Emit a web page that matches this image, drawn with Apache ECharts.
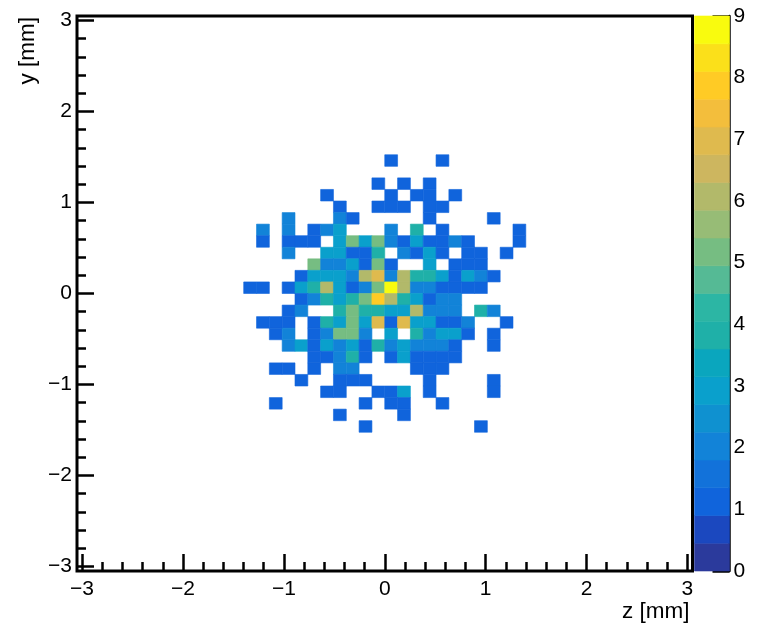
<!DOCTYPE html>
<html>
<head>
<meta charset="utf-8">
<style>html,body{margin:0;padding:0;background:#fff}#c{width:774px;height:624px}</style>
<script src="https://cdn.jsdelivr.net/npm/echarts@6/dist/echarts.min.js"></script>
</head>
<body>
<div id="c"></div>
<script>
// histogram range and binning (ROOT TH2: 48 x 48 bins)
const axisMin = -3.05;
const axisMax = 3.05;
const binCount = 48;
const firstZBin = 13;
const firstYBinFromTop = 12;

// counts per bin, top row first; columns start at firstZBin
const counts = [
  [0,0,0,0,0,0,0,0,0,0,0,1,0,0,0,1,0,0,0,0,0,0],
  [0,0,0,0,0,0,0,0,0,0,0,0,0,0,0,0,0,0,0,0,0,0],
  [0,0,0,0,0,0,0,0,0,0,1,0,1,0,1,0,0,0,0,0,0,0],
  [0,0,0,0,0,0,1,0,0,0,0,1,0,1,1,0,1,0,0,0,0,0],
  [0,0,0,0,0,0,0,1,0,0,1,1,1,0,1,1,0,0,0,0,0,0],
  [0,0,0,2,0,0,0,2,1,0,0,0,0,0,1,0,0,0,0,1,0,0],
  [0,2,0,2,0,1,2,3,0,0,0,2,0,4,0,1,0,0,0,0,0,1],
  [0,1,0,1,1,1,0,3,5,3,5,2,1,3,1,1,2,1,0,0,0,1],
  [0,0,0,2,0,0,3,3,1,1,4,0,2,1,3,1,0,1,1,0,1,0],
  [0,0,0,0,0,5,2,2,3,1,5,1,0,0,3,0,1,1,1,0,0,0],
  [0,0,0,0,1,3,3,3,2,6,7,2,6,4,4,3,1,3,2,1,0,0],
  [1,1,0,1,3,4,6,3,1,2,5,9,6,2,2,1,1,1,1,0,0,0],
  [0,0,0,0,1,2,4,3,4,5,8,6,4,3,1,2,2,0,0,0,0,0],
  [0,0,0,1,2,0,0,4,5,4,4,3,3,6,2,2,2,0,4,2,0,0],
  [0,1,1,1,0,1,4,3,5,3,7,1,7,3,3,1,1,2,0,0,1,0],
  [0,0,1,2,0,1,2,5,5,2,0,3,0,4,2,3,3,1,0,1,0,0],
  [0,0,0,2,3,1,3,2,3,1,4,2,3,2,2,2,1,0,0,1,0,0],
  [0,0,0,0,0,1,1,2,4,1,0,1,3,1,1,1,1,0,0,0,0,0],
  [0,0,1,1,0,1,0,2,2,0,0,0,0,1,1,1,0,0,0,0,0,0],
  [0,0,0,0,1,0,0,1,1,1,0,0,0,0,1,0,0,0,0,1,0,0],
  [0,0,0,0,0,0,1,1,0,0,1,1,3,0,1,0,0,0,0,1,0,0],
  [0,0,1,0,0,0,0,0,0,1,0,1,1,0,0,1,0,0,0,0,0,0],
  [0,0,0,0,0,0,0,1,0,0,0,0,1,0,0,0,0,0,0,0,0,0],
  [0,0,0,0,0,0,0,0,0,1,0,0,0,0,0,0,0,0,1,0,0,0]
];

// palette bands, lowest first, each covering one bandWidth of the colour scale
const bandWidth = 0.45;
const palette = [
  '#2B3A9C','#1B48BF','#1064DC','#1272DA','#1283D8','#0F91D0','#0AA0CC','#0AA6BE',
  '#1FB0A8','#2CB6A4','#55BA95','#76BD82','#97BC76','#B2B96A','#CDB65F','#DFBA4E',
  '#F3BE3C','#FFCB25','#FBE01A','#F9FB0E'
];
const zMax = 9;

// tick values
const majorTicks = [-3,-2,-1,0,1,2,3];
const minorTicks = [-2.8,-2.6,-2.4,-2.2,-1.8,-1.6,-1.4,-1.2,-0.8,-0.6,-0.4,-0.2,0.2,0.4,0.6,0.8,1.2,1.4,1.6,1.8,2.2,2.4,2.6,2.8];
const colorTicks = [0,1,2,3,4,5,6,7,8,9];
const xTitle = 'z [mm]';
const yTitle = 'y [mm]';

const FONT = '"Liberation Sans", Arial, Helvetica, sans-serif';
const binWidth = (axisMax - axisMin) / binCount;
const fmt = v => (v < 0 ? '\u2212' + (-v) : String(v));

const cells = [];
counts.forEach((row, r) => row.forEach((c, k) => {
  if (c > 0) {
    const i = firstZBin + k, j = firstYBinFromTop + r;
    cells.push([axisMin + i * binWidth, axisMin + (i + 1) * binWidth,
                axisMax - (j + 1) * binWidth, axisMax - j * binWidth, c]);
  }
}));
const bands = palette.map((_, k) => [k * bandWidth, (k + 1) * bandWidth, k]);

function rectFrom(api, x0, x1, y0, y1, fill) {
  const a = api.coord([x0, y1]), b = api.coord([x1, y0]);
  return {type: 'rect', shape: {x: a[0], y: a[1], width: b[0] - a[0], height: b[1] - a[1]},
          style: {fill: fill, stroke: fill, lineWidth: 0.6}};
}

const baseAxis = {
  type: 'value', min: axisMin, max: axisMax,
  splitLine: {show: false}, axisLine: {show: false, onZero: false}
};
function majorAxis(extra) {
  return Object.assign({}, baseAxis, {
    axisTick: {show: true, inside: true, length: 17, customValues: majorTicks, lineStyle: {color: '#000', width: 2.5}},
    axisLabel: {show: true, customValues: majorTicks, formatter: fmt, color: '#000', fontFamily: FONT, fontSize: 21},
    nameMoveOverlap: false
  }, extra);
}
function minorAxis() {
  return Object.assign({}, baseAxis, {
    axisTick: {show: true, inside: true, length: 9, customValues: minorTicks, lineStyle: {color: '#000', width: 2.5}},
    axisLabel: {show: false}
  });
}

const chart = echarts.init(document.getElementById('c'), null, {renderer: 'canvas'});
chart.setOption({
  animation: false,
  backgroundColor: '#fff',
  grid: [
    {left: 77, top: 16, width: 615.5, height: 555, show: true, borderColor: '#000', borderWidth: 3, backgroundColor: '#fff', containLabel: false},
    {left: 694.5, top: 16, width: 35, height: 555, show: false, containLabel: false}
  ],
  xAxis: [
    majorAxis({gridIndex: 0, position: 'bottom', name: xTitle, nameLocation: 'end', nameGap: -3,
      nameTextStyle: {color: '#000', fontFamily: FONT, fontSize: 22.5, align: 'right', verticalAlign: 'top', padding: [29, 0, 0, 0]}}),
    Object.assign(minorAxis(), {gridIndex: 0, position: 'bottom'}),
    {type: 'value', gridIndex: 1, min: 0, max: 1, show: false}
  ],
  yAxis: [
    majorAxis({gridIndex: 0, position: 'left', axisLabel: {show: true, customValues: majorTicks, formatter: fmt, color: '#000', fontFamily: FONT, fontSize: 21, margin: 5},
      name: yTitle, nameLocation: 'end', nameRotate: 90, nameGap: -1,
      nameTextStyle: {color: '#000', fontFamily: FONT, fontSize: 22.5, align: 'right', verticalAlign: 'bottom', padding: [0, 0, 38, 0]}}),
    Object.assign(minorAxis(), {gridIndex: 0, position: 'left'}),
    {type: 'value', gridIndex: 1, position: 'right', min: 0, max: zMax, interval: 1,
      splitLine: {show: false},
      axisLine: {show: true, onZero: false, lineStyle: {color: '#000', width: 2.5}},
      axisTick: {show: true, inside: true, length: 17, lineStyle: {color: '#000', width: 2.5}},
      axisLabel: {show: true, color: '#000', fontFamily: FONT, fontSize: 21, margin: 4, padding: [3, 0, 0, 0], customValues: colorTicks, formatter: fmt, showMinLabel: true, showMaxLabel: true}}
  ],
  series: [
    {type: 'custom', xAxisIndex: 0, yAxisIndex: 0, silent: true, clip: true,
      encode: {x: [0, 1], y: [2, 3]},
      data: cells,
      renderItem: (p, api) => rectFrom(api, api.value(0), api.value(1), api.value(2), api.value(3),
        palette[Math.min(palette.length - 1, Math.floor(api.value(4) / bandWidth + 1e-9))])},
    {type: 'custom', xAxisIndex: 2, yAxisIndex: 2, silent: true,
      encode: {y: [0, 1]},
      data: bands,
      renderItem: (p, api) => rectFrom(api, 0, 1, api.value(0), api.value(1), palette[api.value(2)])}
  ]
});
</script>
</body>
</html>
